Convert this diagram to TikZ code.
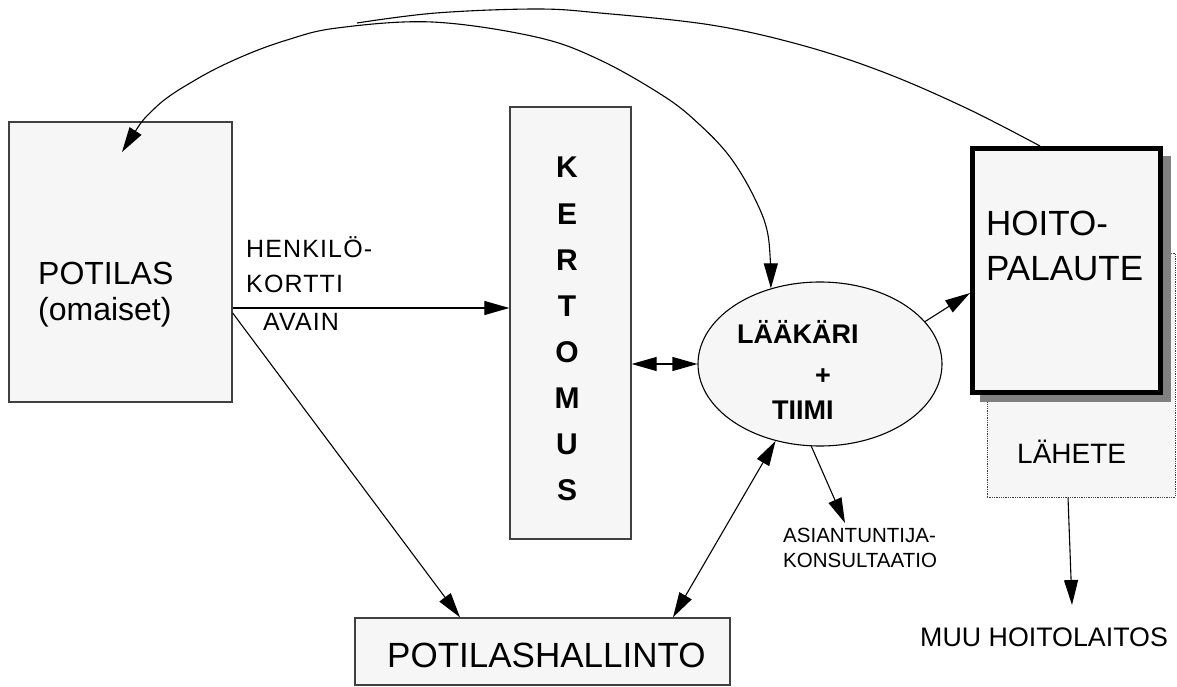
\documentclass[tikz,border=0pt]{standalone}
\usepackage{fontspec}
\setmainfont{Liberation Sans}
\usetikzlibrary{arrows.meta,shapes.geometric}
\definecolor{boxfill}{HTML}{F6F6F6}
\definecolor{boxline}{HTML}{404040}
\definecolor{shade}{HTML}{808080}
\tikzset{
  box/.style={draw=boxline, line width=1.3pt, fill=boxfill, inner sep=0pt},
  txt/.style={inner sep=0pt, anchor=base west},
  conn/.style={line width=1.1pt, draw=black},
  arr/.style={conn, -{Triangle[length=25pt,width=14pt]}},
  darr/.style={conn, {Triangle[length=25pt,width=14pt]}-{Triangle[length=25pt,width=14pt]}}
}
\newcommand{\fs}[1]{\fontsize{#1}{#1}\selectfont}
\newcommand{\spaced}{\addfontfeature{LetterSpace=4.5}}
\begin{document}
\begin{tikzpicture}[x=1pt,y=-1pt]
\useasboundingbox (0,0) rectangle (1177,687);
% boxes
\node[box, minimum width=223pt, minimum height=280pt] (potilas) at (120.5,262) {};
\node[box, minimum width=121pt, minimum height=432pt] (kertomus) at (570.5,323) {};
\node[box, minimum width=375pt, minimum height=67pt] (hallinto) at (542.5,651.5) {};
\node[box, ellipse, line width=1.1pt, draw=black, minimum width=244pt, minimum height=164pt] (ell) at (820,364) {};
\node[box, draw=boxline, densely dotted, line width=1pt, minimum width=188pt, minimum height=244pt] (lahete) at (1081,375) {};
\node[fill=shade, inner sep=0pt, minimum width=191pt, minimum height=246pt] (shadow) at (1075.5,279) {};
\node[draw=black, fill=boxfill, line width=5pt, inner sep=0pt, minimum width=188pt, minimum height=244pt] (hoito) at (1066.5,270.5) {};
% texts
\node[txt, font=\fs{32}] (t-pot1) at (38,284) {POTILAS};
\node[txt, font=\fs{32}] (t-pot2) at (38,320) {(omaiset)};
\foreach \l [count=\i] in {K,E,R,T,O,M,U,S}
  \node[inner sep=0pt, anchor=base, font=\bfseries\fs{30}] (k\i) at (567,{132+46*\i}) {\l};
\node[txt, font=\bfseries\fs{27}] (t-laak) at (737,343) {LÄÄKÄRI};
\node[inner sep=0pt, anchor=base, font=\bfseries\fs{27}] (t-plus) at (823,384) {+};
\node[txt, font=\bfseries\fs{27}] (t-tiimi) at (772,419) {TIIMI};
\node[txt, font=\fs{35}] (t-hoito1) at (986,235) {HOITO-};
\node[txt, font=\fs{35}] (t-hoito2) at (986,280) {PALAUTE};
\node[txt, font=\fs{28}] (t-lahete) at (1017,463) {LÄHETE};
\node[txt, font=\fs{35}] (t-hall) at (387,667) {POTILASHALLINTO};
\node[txt, font=\fs{25}\spaced] (t-henk1) at (246,257) {HENKILÖ-};
\node[txt, font=\fs{25}\spaced] (t-henk2) at (246,292) {KORTTI};
\node[txt, font=\fs{25}\spaced] (t-avain) at (263,330) {AVAIN};
\node[txt, font=\fs{20.5}] (t-asi1) at (783,542) {ASIANTUNTIJA-};
\node[txt, font=\fs{20.5}] (t-asi2) at (783,567) {KONSULTAATIO};
\node[txt, font=\fs{26.8}] (t-muu) at (920,646) {MUU HOITOLAITOS};
% connector end points
\coordinate (asitip) at (845,523);
\coordinate (muutip) at (1072,605);
\coordinate (pottip) at (122,152);
\coordinate (freeend) at (357,23);
% connectors
\draw[arr] (potilas.east |- 0,308) -- (kertomus.west |- 0,308);
\draw[arr] (potilas.east |- 0,313) -- (hallinto.north -| 460,0);
\draw[darr] (kertomus.east |- ell.west) -- (ell.west);
\draw[darr] (hallinto.north -| 673,0) -- (ell.-120);
\draw[arr] (ell.-96) -- (asitip);
\draw[arr] (ell.22) -- (hoito.west |- 0,293);
\draw[arr] (lahete.south -| 1068,0) -- (muutip);
\draw[darr] plot[smooth, tension=0.6] coordinates {(pottip) (155,108) (197,79) (241,57) (287,40) (337,28) (432,22) (536,37) (600,60) (665,97) (700,125) (730,157) (754,197) (768,235) (ell.123)};
\draw[conn] plot[smooth, tension=0.6] coordinates {(hoito.north -| 1040,0) (966,108) (883,72) (801,45) (711,25) (600,13) (536,9) (436,13) (freeend)};
\end{tikzpicture}
\end{document}
